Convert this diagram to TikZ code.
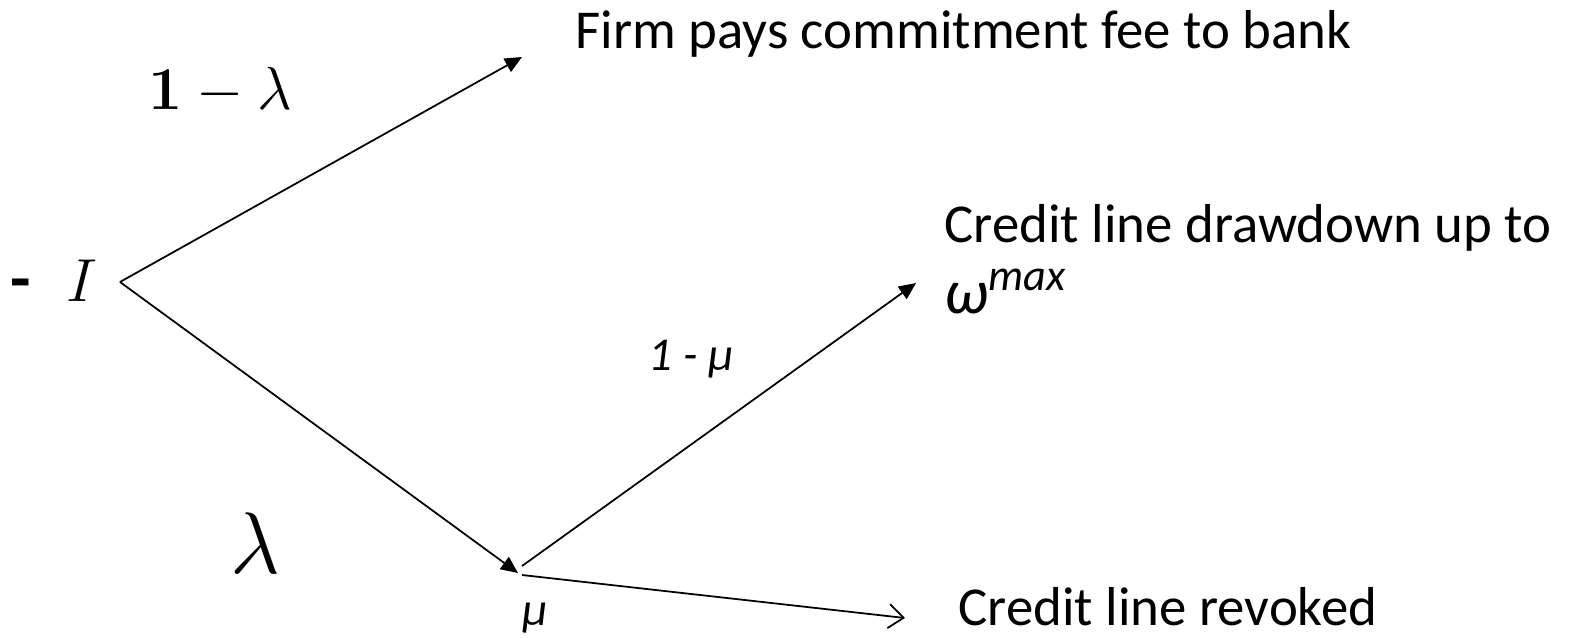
\documentclass[tikz,border=0pt]{standalone}
\usepackage[no-math]{fontspec}
\setmainfont{Carlito}
\usepackage{amsmath}
\usepackage{tikz}
\usetikzlibrary{arrows.meta, positioning, calc}
\definecolor{mydark}{RGB}{0,0,0}
\tikzset{
  arrow/.style={-{Triangle[length=0.17cm, width=0.15cm]}, line width=0.5pt, color=mydark},
  openarrow/.style={-{Straight Barb[length=0.15cm, width=0.24cm]}, line width=0.5pt, color=mydark},
  line/.style={line width=0.5pt, color=mydark},
  outcome/.style={anchor=base west, inner sep=0pt, font=\fontsize{15.6}{18}\selectfont},
  problbl/.style={inner sep=0pt, font=\fontsize{13.4}{16}\selectfont\itshape},
  mathlbl/.style={inner sep=0pt, font=\fontsize{19}{22}\selectfont}
}

\begin{document}
\begin{tikzpicture}[x=1cm, y=1cm]
  \useasboundingbox (0,0) rectangle (15.69,6.37);
  % Root and branch points
  \coordinate (root) at (1.20,3.55);
  \coordinate (pay) at (5.22,5.80);
  \coordinate (draw) at (5.18,0.64);
  \coordinate (full) at (9.16,3.54);
  \coordinate (revoke) at (9.05,0.19);

  \node[mathlbl, anchor=base west] (inv) at (0.10,3.36) {\textbf{-}\hspace{0.35cm}$I$};

  % First stage
  \draw[arrow] (root) -- (pay);
  \draw[arrow] (root) -- (draw);
  \node[mathlbl, anchor=base west] (pnot) at (1.48,5.28) {$\mathbf{1}-\lambda$};
  \node[mathlbl, anchor=base west, font=\fontsize{23}{26}\selectfont] (pyes) at (2.30,0.64) {$\lambda$};

  % Second stage
  \draw[arrow] ($(draw)+(0.04,0.07)$) -- (full);
  \draw[openarrow] ($(draw)+(0.04,-0.02)$) -- (revoke);
  \node[problbl, anchor=base west] (qkeep) at (6.48,2.67) {1 - μ};
  \node[problbl, anchor=base] (qrev) at (5.35,0.12) {μ};

  % Outcomes
  \node[outcome] (feetxt) at (5.75,5.89) {Firm pays commitment fee to bank};
  \node[outcome] (drawtxt) at (9.44,3.95) {Credit line drawdown up to};
  \node[outcome, font=\fontsize{18}{20}\selectfont\itshape] (omtxt) at (9.44,3.24) {ω\textsuperscript{max}};
  \node[outcome] (revtxt) at (9.58,0.12) {Credit line revoked};
\end{tikzpicture}
\end{document}
